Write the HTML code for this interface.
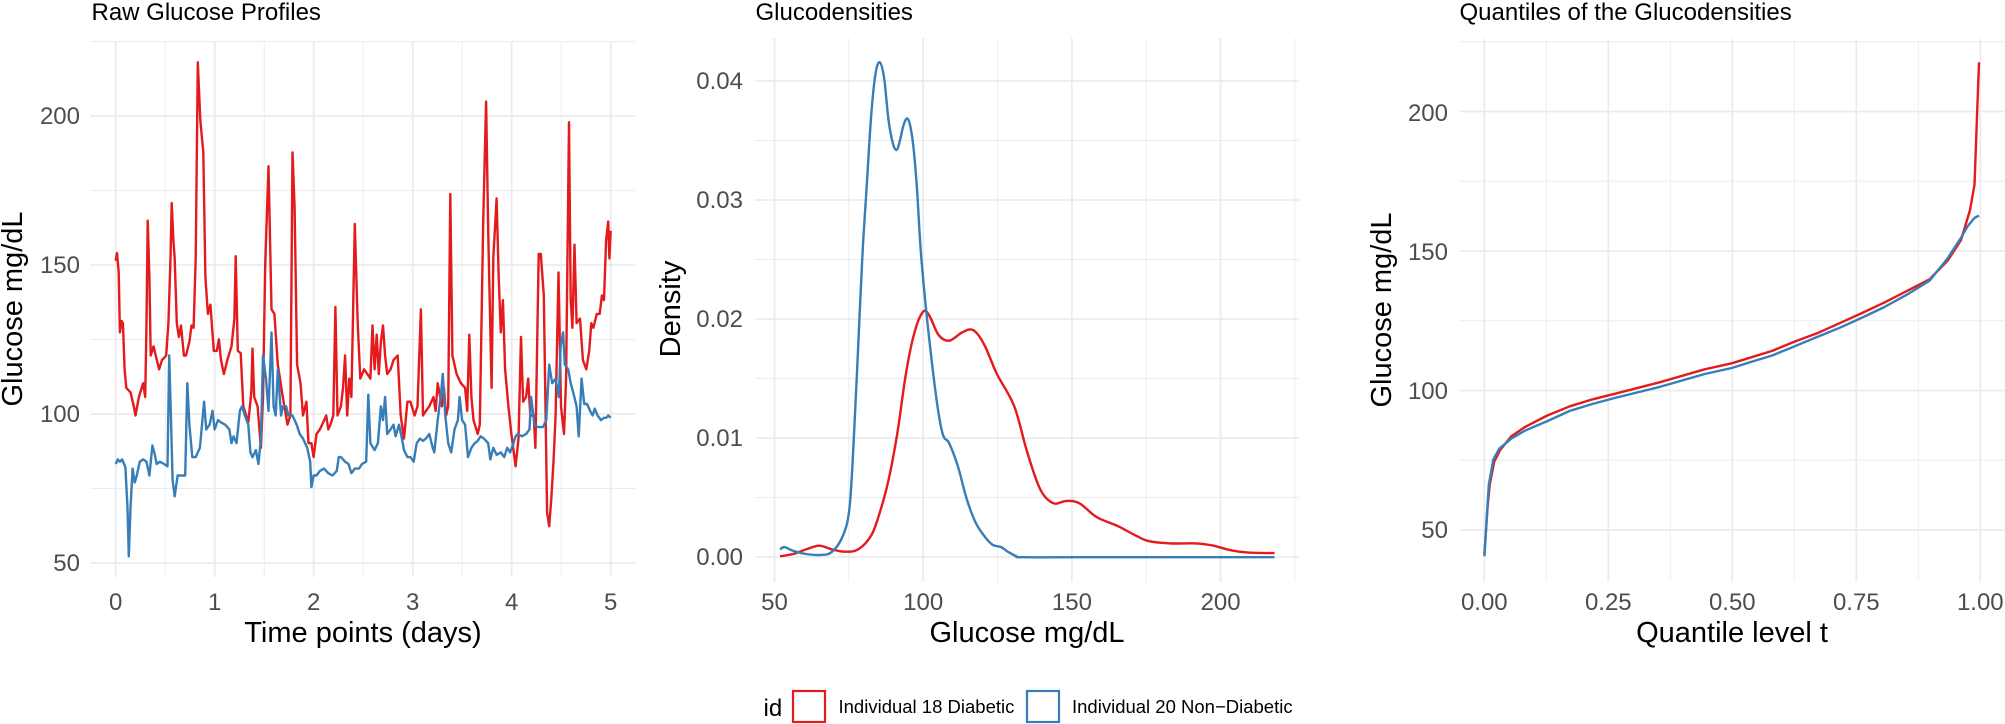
<!DOCTYPE html>
<html><head><meta charset="utf-8"><style>
html,body{margin:0;padding:0;background:#fff;}
svg{display:block;font-family:"Liberation Sans",Arial,sans-serif;}
</style></head><body>
<svg id="s" width="2005" height="724" viewBox="0 0 2005 724" xmlns="http://www.w3.org/2000/svg">
<g id="grid"></g>
<g id="lines"></g>
<text x="91.5" y="20" font-size="24" fill="#000">Raw Glucose Profiles</text>
<text x="755.5" y="20" font-size="24" fill="#000">Glucodensities</text>
<text x="1459.5" y="20" font-size="24" fill="#000">Quantiles of the Glucodensities</text>
<g font-size="24" fill="#4d4d4d">
<text x="80" y="124" text-anchor="end">200</text>
<text x="80" y="273" text-anchor="end">150</text>
<text x="80" y="422" text-anchor="end">100</text>
<text x="80" y="571" text-anchor="end">50</text>
<text x="115.7" y="610" text-anchor="middle">0</text>
<text x="214.7" y="610" text-anchor="middle">1</text>
<text x="313.7" y="610" text-anchor="middle">2</text>
<text x="412.7" y="610" text-anchor="middle">3</text>
<text x="511.7" y="610" text-anchor="middle">4</text>
<text x="610.7" y="610" text-anchor="middle">5</text>
<text x="743" y="89" text-anchor="end">0.04</text>
<text x="743" y="208" text-anchor="end">0.03</text>
<text x="743" y="327" text-anchor="end">0.02</text>
<text x="743" y="446" text-anchor="end">0.01</text>
<text x="743" y="565" text-anchor="end">0.00</text>
<text x="774.5" y="610" text-anchor="middle">50</text>
<text x="923.2" y="610" text-anchor="middle">100</text>
<text x="1071.9" y="610" text-anchor="middle">150</text>
<text x="1220.6" y="610" text-anchor="middle">200</text>
<text x="1448" y="121" text-anchor="end">200</text>
<text x="1448" y="260" text-anchor="end">150</text>
<text x="1448" y="399" text-anchor="end">100</text>
<text x="1448" y="538" text-anchor="end">50</text>
<text x="1484.3" y="610" text-anchor="middle">0.00</text>
<text x="1608.3" y="610" text-anchor="middle">0.25</text>
<text x="1732.3" y="610" text-anchor="middle">0.50</text>
<text x="1856.3" y="610" text-anchor="middle">0.75</text>
<text x="1980.3" y="610" text-anchor="middle">1.00</text>
</g>
<g font-size="29" fill="#000">
<text x="363" y="642" text-anchor="middle">Time points (days)</text>
<text x="1027" y="642" text-anchor="middle">Glucose mg/dL</text>
<text x="1732" y="642" text-anchor="middle">Quantile level t</text>
<text transform="translate(22,309) rotate(-90)" text-anchor="middle">Glucose mg/dL</text>
<text transform="translate(680,309) rotate(-90)" text-anchor="middle">Density</text>
<text transform="translate(1391,310) rotate(-90)" text-anchor="middle">Glucose mg/dL</text>
</g>
<text x="763.5" y="716" font-size="24" fill="#000">id</text>
<rect x="793" y="691" width="32" height="31" fill="#fff" stroke="#E41A1C" stroke-width="2.2"/>
<text x="838.5" y="713" font-size="18.5" fill="#000">Individual 18 Diabetic</text>
<rect x="1027" y="691" width="32" height="31" fill="#fff" stroke="#377EB8" stroke-width="2.2"/>
<text x="1072" y="713" font-size="18.5" fill="#000">Individual 20 Non−Diabetic</text>
</svg>
<script>
var NS="http://www.w3.org/2000/svg",KY=2.166;
var grid=document.getElementById("grid"),lines=document.getElementById("lines");
function ln(x1,y1,x2,y2,w){var l=document.createElementNS(NS,"line");l.setAttribute("x1",x1);l.setAttribute("y1",y1);l.setAttribute("x2",x2);l.setAttribute("y2",y2);l.setAttribute("stroke","#ebebeb");l.setAttribute("stroke-width",w);grid.appendChild(l);}
var i;
for(i=0;i<=10;i++){var x=115.7+i*49.5;ln(x,41,x,577,i%2?0.9:1.8);}
for(i=0;i<8;i++){var y=563-i*74.5;if(y<40)break;ln(90.5,y,635.5,y,i%2?0.9:1.8);}
for(i=0;i<8;i++){var x=774.5+i*74.35;if(x>1300)break;ln(x,38,x,582,i%2?0.9:1.8);}
for(i=0;i<10;i++){var y=557-i*59.5;if(y<37)break;ln(755.5,y,1299,y,i%2?0.9:1.8);}
for(i=0;i<9;i++){var x=1484.3+i*62;if(x>2004)break;ln(x,39,x,581,i%2?0.9:1.8);}
for(i=0;i<8;i++){var y=530-i*69.75;if(y<38)break;ln(1459.5,y,2005,y,i%2?0.9:1.8);}
function path(pts,ox,kx,col,smooth){
 var p=pts.map(function(a){return [ox+a[0]/kx,a[1]/KY];});
 var d="M"+p[0][0].toFixed(1)+","+p[0][1].toFixed(1);
 if(!smooth){for(var j=1;j<p.length;j++)d+="L"+p[j][0].toFixed(1)+","+p[j][1].toFixed(1);}
 else{for(var j=0;j<p.length-1;j++){var p0=p[j-1]||p[j],p1=p[j],p2=p[j+1],p3=p[j+2]||p2;
  var c1=[p1[0]+(p2[0]-p0[0])/6,p1[1]+(p2[1]-p0[1])/6],c2=[p2[0]-(p3[0]-p1[0])/6,p2[1]-(p3[1]-p1[1])/6];
  d+="C"+c1[0].toFixed(1)+","+c1[1].toFixed(1)+" "+c2[0].toFixed(1)+","+c2[1].toFixed(1)+" "+p2[0].toFixed(1)+","+p2[1].toFixed(1);}}
 var e=document.createElementNS(NS,"path");e.setAttribute("d",d);e.setAttribute("fill","none");e.setAttribute("stroke",col);e.setAttribute("stroke-width","2.4");e.setAttribute("stroke-linejoin","round");lines.appendChild(e);}
var R="#E41A1C",B="#377EB8";
var blue1=[[275,1005],[280,995],[285,1000],[290,995],[298,1012],[303,1100],[306,1205],[310,1100],[315,1015],[320,1045],[325,1030],[332,1000],[340,995],[348,1000],[355,1030],[362,965],[368,985],[372,1005],[380,1000],[390,1005],[398,1010],[402,770],[406,900],[410,1040],[415,1075],[422,1030],[430,1030],[440,1030],[445,830],[450,920],[457,990],[465,990],[475,970],[480,920],[485,870],[490,930],[498,920],[505,890],[510,930],[518,910],[525,915],[535,920],[545,930],[550,960],[555,945],[562,960],[570,890],[575,880],[582,900],[590,920],[595,980],[600,990],[608,975],[614,1005],[620,950],[625,770],[632,820],[638,890],[645,720],[650,880],[655,900],[660,800],[668,900],[672,880],[680,880],[685,900],[695,900],[705,920],[712,940],[720,950],[730,970],[737,1000],[740,1055],[745,1030],[752,1030],[760,1020],[770,1015],[780,1025],[790,1030],[800,1020],[805,990],[810,990],[820,1000],[828,1005],[835,1025],[843,1015],[853,1015],[860,1005],[870,1000],[875,855],[880,960],[890,975],[898,960],[905,880],[910,910],[915,860],[920,940],[928,930],[935,920],[940,945],[948,920],[955,950],[960,975],[968,990],[975,990],[983,1000],[990,960],[998,950],[1005,955],[1012,950],[1020,940],[1028,970],[1032,980],[1040,910],[1048,850],[1052,810],[1058,900],[1065,960],[1072,980],[1080,930],[1088,910],[1092,860],[1098,910],[1105,920],[1112,990],[1120,970],[1128,960],[1135,955],[1142,945],[1150,950],[1160,960],[1165,995],[1172,970],[1180,985],[1190,980],[1198,990],[1205,970],[1212,980],[1220,960],[1225,945],[1230,940],[1240,945],[1250,940],[1258,930],[1262,860],[1270,920],[1278,925],[1290,925],[1298,910],[1305,790],[1312,830],[1320,820],[1328,860],[1332,750],[1338,720],[1342,790],[1350,800],[1356,830],[1362,850],[1370,880],[1375,945],[1382,820],[1388,875],[1395,875],[1402,890],[1408,900],[1413,885],[1420,900],[1428,910],[1435,905],[1440,905],[1445,900],[1451,905]];
var red1=[[275,565],[278,548],[282,590],[285,720],[289,695],[292,700],[296,800],[300,840],[310,850],[318,880],[322,900],[330,860],[340,830],[345,860],[348,700],[351,478],[355,600],[358,770],[365,750],[370,770],[378,800],[385,780],[395,770],[400,700],[405,560],[408,440],[412,520],[415,560],[420,700],[425,730],[430,705],[437,770],[442,770],[450,740],[455,705],[460,710],[465,560],[470,135],[476,260],[483,330],[488,600],[494,680],[500,660],[508,760],[515,760],[520,735],[525,780],[532,810],[540,780],[550,750],[557,690],[560,555],[565,760],[572,765],[578,880],[590,915],[597,850],[600,755],[604,860],[612,880],[620,970],[625,860],[630,575],[638,360],[645,670],[652,680],[660,790],[672,860],[683,920],[690,900],[695,330],[700,450],[706,790],[714,830],[720,900],[728,870],[733,960],[740,960],[745,990],[752,940],[760,930],[768,915],[775,900],[780,930],[785,920],[792,900],[797,665],[802,900],[810,880],[815,840],[820,770],[825,900],[830,820],[835,860],[843,485],[850,700],[856,820],[865,800],[880,820],[885,705],[890,800],[895,725],[900,810],[905,740],[910,705],[915,770],[920,810],[928,800],[935,780],[945,770],[952,900],[960,950],[968,870],[975,870],[985,900],[992,880],[1000,670],[1005,900],[1012,890],[1020,880],[1030,860],[1035,890],[1040,830],[1050,880],[1055,840],[1060,900],[1065,880],[1070,420],[1075,770],[1085,810],[1095,830],[1105,840],[1110,890],[1115,725],[1120,860],[1125,910],[1135,940],[1140,920],[1148,480],[1155,220],[1160,500],[1168,840],[1172,560],[1180,430],[1185,600],[1190,720],[1195,650],[1200,800],[1208,880],[1215,940],[1225,1010],[1232,950],[1238,730],[1243,870],[1250,860],[1255,820],[1260,900],[1268,900],[1272,970],[1280,550],[1285,550],[1292,640],[1300,1110],[1305,1140],[1310,1080],[1315,1000],[1320,900],[1327,590],[1333,880],[1340,940],[1345,820],[1352,265],[1356,650],[1360,710],[1365,530],[1370,700],[1378,690],[1385,780],[1393,800],[1400,760],[1405,700],[1410,710],[1418,680],[1425,680],[1430,640],[1435,650],[1440,520],[1445,480],[1448,560],[1451,500]];
path(red1,0,2.376,R,false);path(blue1,0,2.376,B,false);
var bd=[[300,1190],[310,1185],[330,1193],[360,1200],[395,1202],[420,1195],[445,1160],[460,1100],[470,950],[480,750],[490,550],[500,400],[510,250],[520,160],[530,135],[540,170],[550,260],[560,310],[568,325],[575,310],[585,270],[595,258],[605,300],[615,400],[625,550],[640,700],[660,860],[675,940],[690,960],[710,1010],[730,1080],[750,1130],[770,1160],[790,1180],[810,1185],[825,1195],[845,1205],[860,1207],[1000,1207],[1440,1207]];
var rd=[[300,1205],[330,1200],[360,1190],[390,1182],[420,1190],[450,1195],[480,1190],[510,1160],[530,1110],[550,1040],[570,940],[590,810],[610,720],[630,675],[645,685],[665,725],[690,738],[720,720],[745,715],[770,745],[800,810],[840,880],[870,980],[900,1060],[930,1090],[960,1085],[990,1090],[1030,1120],[1080,1140],[1120,1160],[1150,1172],[1200,1177],[1260,1177],[1300,1182],[1340,1192],[1380,1197],[1440,1198]];
path(rd,650,2.306,R,true);path(bd,650,2.306,B,true);
var rq=[[410,1200],[417,1100],[422,1050],[432,1000],[445,975],[470,945],[500,925],[550,900],[600,880],[650,865],[700,853],[800,828],[900,800],[960,787],[1000,775],[1050,760],[1100,740],[1150,722],[1200,700],[1250,678],[1300,655],[1350,630],[1400,605],[1440,565],[1470,520],[1490,455],[1500,400],[1510,135]];
var bq=[[410,1205],[420,1050],[430,995],[443,972],[470,950],[500,933],[550,912],[600,890],[650,875],[700,862],[800,838],[900,810],[960,797],[1000,785],[1050,770],[1100,750],[1150,730],[1200,710],[1250,688],[1300,665],[1350,638],[1400,608],[1440,560],[1470,515],[1485,490],[1500,472],[1510,467]];
path(rq,1300,2.224,R,false);path(bq,1300,2.224,B,false);
</script>
</body></html>
